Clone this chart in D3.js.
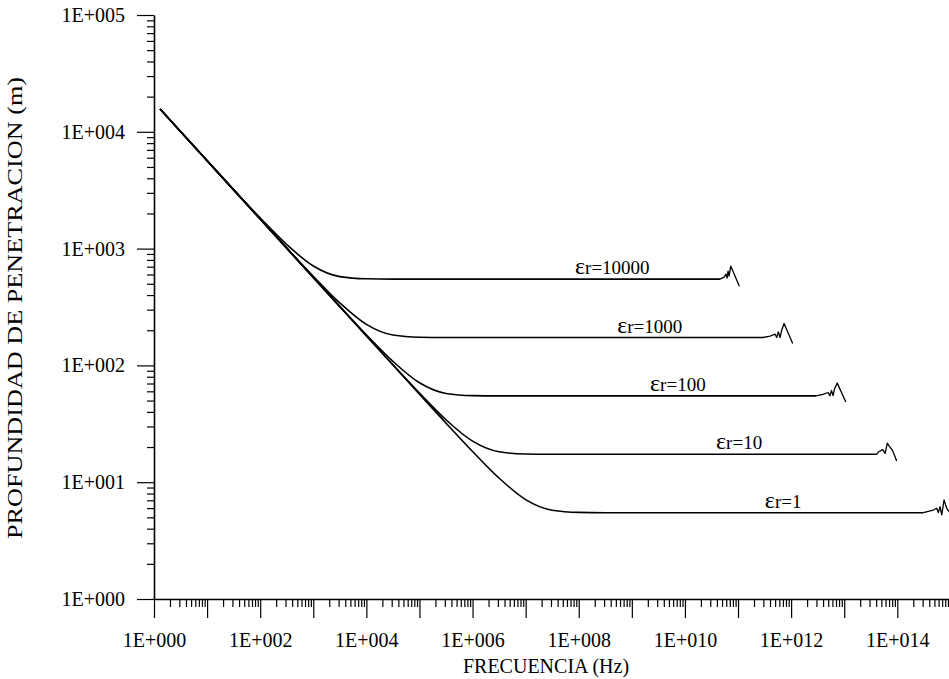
<!DOCTYPE html>
<html>
<head>
<meta charset="utf-8">
<script src="https://cdn.jsdelivr.net/npm/d3@7"></script>
<style>
  html, body { margin: 0; padding: 0; background: #fff; }
  svg { display: block; }
</style>
</head>
<body>
<svg id="chart" width="949" height="679"></svg>
<script>
// Frequency grid (Hz), shared by all five curves up to 1 GHz
const freqHz = [1.3, 3.16, 10, 31.6, 100, 316, 1e3, 3.16e3, 1e4, 3.16e4, 1e5, 3.16e5,
                1e6, 3.16e6, 1e7, 3.16e7, 1e8, 3.16e8, 1e9];

// Penetration depth (m) on that grid, one array per relative permittivity
const depthEr10000 = [15700, 10073, 5674, 3207, 1832, 1084, 709.9, 575.6, 551.1, 548.3,
                      548, 548, 548, 548, 548, 548, 548, 548, 548];
const depthEr1000  = [15700, 10067, 5662, 3186, 1794, 1014, 579.5, 342.7, 224.5, 182.0,
                      174.3, 173.4, 173.3, 173.3, 173.3, 173.3, 173.3, 173.3, 173.3];
const depthEr100   = [15700, 10066, 5660, 3183, 1790, 1007, 567.4, 320.7, 183.2, 108.4,
                      70.99, 57.56, 55.11, 54.83, 54.8, 54.8, 54.8, 54.8, 54.8];
const depthEr10    = [15700, 10066, 5660, 3183, 1790, 1006.6, 566.2, 318.6, 179.4, 101.4,
                      57.95, 34.27, 22.45, 18.20, 17.43, 17.34, 17.33, 17.33, 17.33];
const depthEr1     = [15700, 10066, 5660, 3183, 1790, 1006.6, 566.0, 318.3, 179.0, 100.7,
                      56.74, 32.07, 18.32, 10.84, 7.099, 5.756, 5.511, 5.483, 5.48];

// High-frequency ends of each curve, where the numerical solution breaks up
const tailFreqEr10000  = [4.58e10, 5.46e10, 5.94e10, 6.21e10, 6.49e10, 6.78e10, 7.29e10, 1.06e11];
const tailDepthEr10000 = [548, 570, 605, 559, 642, 581, 708, 477];
const tailFreqEr1000   = [2.96e11, 4.01e11, 4.98e11, 5.36e11, 5.74e11, 6.18e11, 6.65e11, 7.36e11, 1.07e12];
const tailDepthEr1000  = [173.3, 177.8, 184.9, 173.3, 193.6, 173.3, 200.2, 228.4, 153.9];
const tailFreqEr100    = [2.95e12, 3.98e12, 5.0e12, 5.37e12, 5.75e12, 6.17e12, 6.6e12, 7.4e12, 1.07e13];
const tailDepthEr100   = [54.8, 56.5, 58.6, 54.9, 61.0, 55.2, 63.5, 70.5, 48.5];
const tailFreqEr10     = [4.10e13, 4.40e13, 5.32e13, 5.88e13, 6.49e13, 6.90e13, 8.20e13, 9.75e13];
const tailDepthEr10    = [17.33, 18.13, 19.0, 17.6, 21.6, 20.7, 18.5, 15.2];
const tailFreqEr1      = [3.10e14, 4.77e14, 5.53e14, 5.93e14, 6.38e14, 6.87e14, 7.59e14, 8.53e14, 1.2e15];
const tailDepthEr1     = [5.48, 5.78, 5.98, 5.49, 6.17, 5.24, 7.04, 5.98, 4.8];

// Curve names and where their labels start along the frequency axis
const seriesNames = ["10000", "1000", "100", "10", "1"];
const labelFreq   = [8.5e7, 5.3e8, 2.2e9, 3.85e10, 3.2e11];

// Tick labels
const xTickLabels = ["1E+000", "1E+002", "1E+004", "1E+006", "1E+008", "1E+010", "1E+012", "1E+014"];
const yTickLabels = ["1E+000", "1E+001", "1E+002", "1E+003", "1E+004", "1E+005"];

const xTitle = "FRECUENCIA (Hz)";
const yTitle = "PROFUNDIDAD DE PENETRACION (m)";

// ---------------------------------------------------------------------------
const FONT = "'Liberation Serif', 'Times New Roman', Times, serif";
const svg = d3.select("#chart");

const x = d3.scaleLog().domain([1, 1e15]).range([154, 950.4]);
const y = d3.scaleLog().domain([1, 1e5]).range([599, 15]);
const xAxisY = y(1);
const yAxisX = x(1);

const xDecades = d3.range(0, 16).map(e => Math.pow(10, e));
const yDecades = d3.range(0, 6).map(e => Math.pow(10, e));
const minorOf = decs => decs.slice(0, -1).flatMap(d => d3.range(2, 10).map(m => m * d));

function styleAxis(g) {
  g.attr("font-family", FONT).attr("font-size", 20);
  g.selectAll("line").attr("stroke", "#000").attr("stroke-width", 1.2);
  g.selectAll("path.domain").attr("stroke", "#000").attr("stroke-width", 1.6);
  g.selectAll("text").attr("fill", "#000");
}

// x axis: minor ticks + domain line
svg.append("g")
  .attr("transform", `translate(0,${xAxisY})`)
  .call(d3.axisBottom(x).tickValues(minorOf(xDecades)).tickSizeInner(8).tickSizeOuter(0).tickFormat(""))
  .call(styleAxis);

// x axis: decade ticks, labelled every second decade
svg.append("g")
  .attr("transform", `translate(0,${xAxisY})`)
  .call(d3.axisBottom(x).tickValues(xDecades).tickSizeInner(19).tickSizeOuter(0).tickPadding(15)
    .tickFormat(v => {
      const e = Math.round(Math.log10(v));
      return e % 2 === 0 && xTickLabels[e / 2] ? xTickLabels[e / 2] : "";
    }))
  .call(g => g.select("path.domain").remove())
  .call(styleAxis);

// y axis: minor ticks + domain line
svg.append("g")
  .attr("transform", `translate(${yAxisX},0)`)
  .call(d3.axisLeft(y).tickValues(minorOf(yDecades)).tickSizeInner(7).tickSizeOuter(0).tickFormat(""))
  .call(styleAxis);

// y axis: decade ticks with labels
svg.append("g")
  .attr("transform", `translate(${yAxisX},0)`)
  .call(d3.axisLeft(y).tickValues(yDecades).tickSizeInner(17).tickSizeOuter(0).tickPadding(12)
    .tickFormat((v, i) => yTickLabels[i]))
  .call(g => g.select("path.domain").remove())
  .call(styleAxis);

// Axis titles
svg.append("text")
  .attr("x", 546).attr("y", 673)
  .attr("text-anchor", "middle")
  .attr("font-family", FONT).attr("font-size", 20)
  .text(xTitle);

svg.append("text")
  .attr("transform", "translate(22,308) rotate(-90)")
  .attr("text-anchor", "middle")
  .attr("font-family", FONT).attr("font-size", 21)
  .attr("textLength", 462).attr("lengthAdjust", "spacingAndGlyphs")
  .text(yTitle);

// Curves: smooth part on the shared grid, then the jagged high-frequency end
const gridDepths = [depthEr10000, depthEr1000, depthEr100, depthEr10, depthEr1];
const tailFreqs  = [tailFreqEr10000, tailFreqEr1000, tailFreqEr100, tailFreqEr10, tailFreqEr1];
const tailDepths = [tailDepthEr10000, tailDepthEr1000, tailDepthEr100, tailDepthEr10, tailDepthEr1];

const series = seriesNames.map((name, i) => {
  const tail = tailFreqs[i].map((f, j) => ({ f, d: tailDepths[i][j] }));
  const body = freqHz.map((f, j) => ({ f, d: gridDepths[i][j] })).concat([tail[0]]);
  return { name, body, tail };
});

const smoothLine = d3.line().x(p => x(p.f)).y(p => y(p.d)).curve(d3.curveMonotoneX);
const jaggedLine = d3.line().x(p => x(p.f)).y(p => y(p.d)).curve(d3.curveLinear);

svg.append("defs").append("clipPath").attr("id", "plot-clip")
  .append("rect").attr("x", 0).attr("y", 0).attr("width", 949).attr("height", xAxisY);

const curves = svg.append("g").attr("clip-path", "url(#plot-clip)")
  .attr("fill", "none").attr("stroke", "#000").attr("stroke-width", 1.6)
  .attr("stroke-linejoin", "round");

curves.selectAll("path.body")
  .data(series)
  .join("path")
  .attr("class", "body")
  .attr("d", s => smoothLine(s.body));

curves.selectAll("path.tail")
  .data(series)
  .join("path")
  .attr("class", "tail")
  .attr("stroke-width", 1.3)
  .attr("d", s => jaggedLine(s.tail));

// Curve labels sitting just above each plateau
const labels = svg.append("g")
  .attr("font-family", FONT).attr("font-size", 19).attr("fill", "#000");

series.forEach((s, i) => {
  const plateau = gridDepths[i][gridDepths[i].length - 1];
  const t = labels.append("text")
    .attr("x", x(labelFreq[i]))
    .attr("y", y(plateau) - 5);
  t.append("tspan").attr("font-size", 24).text("\u03b5");
  t.append("tspan").text("r=" + s.name);
});
</script>
</body>
</html>
